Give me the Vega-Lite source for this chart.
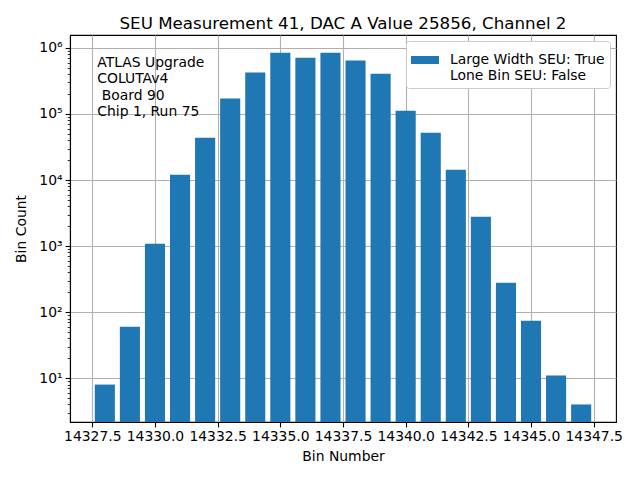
{
  "$schema": "https://vega.github.io/schema/vega-lite/v6.json",
  "width": 546,
  "height": 387,
  "autosize": {"type": "none"},
  "padding": {"left": 70, "top": 35, "right": 24, "bottom": 58},
  "background": "white",
  "title": {
    "text": "SEU Measurement 41, DAC A Value 25856, Channel 2",
    "font": "DejaVu Sans",
    "fontSize": 16.7,
    "fontWeight": "normal",
    "color": "black",
    "offset": 2
  },
  "config": {
    "font": "DejaVu Sans",
    "view": {"stroke": "black", "strokeWidth": 1.1},
    "style": {"guide-label": {"lineBreak": "\n"}},
    "axis": {
      "domainColor": "black",
      "domainWidth": 1.1,
      "tickColor": "black",
      "tickWidth": 1.1,
      "tickSize": 4.9,
      "labelColor": "black",
      "labelFontSize": 13.9,
      "labelPadding": 3,
      "titleColor": "black",
      "titleFontSize": 13.9,
      "titleFontWeight": "normal",
      "gridColor": "#b0b0b0",
      "gridWidth": 1.1,
      "gridOpacity": 1,
      "zindex": 1
    }
  },
  "data": {
    "values": [
      {"bin": 14328, "count": 8, "series": "Large Width SEU: True\nLone Bin SEU: False"},
      {"bin": 14329, "count": 60, "series": "Large Width SEU: True\nLone Bin SEU: False"},
      {"bin": 14330, "count": 1080, "series": "Large Width SEU: True\nLone Bin SEU: False"},
      {"bin": 14331, "count": 12000, "series": "Large Width SEU: True\nLone Bin SEU: False"},
      {"bin": 14332, "count": 43700, "series": "Large Width SEU: True\nLone Bin SEU: False"},
      {"bin": 14333, "count": 171000, "series": "Large Width SEU: True\nLone Bin SEU: False"},
      {"bin": 14334, "count": 423000, "series": "Large Width SEU: True\nLone Bin SEU: False"},
      {"bin": 14335, "count": 849000, "series": "Large Width SEU: True\nLone Bin SEU: False"},
      {"bin": 14336, "count": 713000, "series": "Large Width SEU: True\nLone Bin SEU: False"},
      {"bin": 14337, "count": 849000, "series": "Large Width SEU: True\nLone Bin SEU: False"},
      {"bin": 14338, "count": 643000, "series": "Large Width SEU: True\nLone Bin SEU: False"},
      {"bin": 14339, "count": 408000, "series": "Large Width SEU: True\nLone Bin SEU: False"},
      {"bin": 14340, "count": 112000, "series": "Large Width SEU: True\nLone Bin SEU: False"},
      {"bin": 14341, "count": 52100, "series": "Large Width SEU: True\nLone Bin SEU: False"},
      {"bin": 14342, "count": 14300, "series": "Large Width SEU: True\nLone Bin SEU: False"},
      {"bin": 14343, "count": 2780, "series": "Large Width SEU: True\nLone Bin SEU: False"},
      {"bin": 14344, "count": 278, "series": "Large Width SEU: True\nLone Bin SEU: False"},
      {"bin": 14345, "count": 74, "series": "Large Width SEU: True\nLone Bin SEU: False"},
      {"bin": 14346, "count": 11, "series": "Large Width SEU: True\nLone Bin SEU: False"},
      {"bin": 14347, "count": 4, "series": "Large Width SEU: True\nLone Bin SEU: False"}
    ]
  },
  "layer": [
    {
      "mark": {"type": "bar", "size": 20.1, "clip": true},
      "encoding": {
        "x": {
          "field": "bin",
          "type": "quantitative",
          "scale": {"domain": [14326.61, 14348.39], "nice": false, "zero": false, "padding": 0},
          "axis": {
            "values": [14327.5, 14330, 14332.5, 14335, 14337.5, 14340, 14342.5, 14345, 14347.5],
            "format": ".1f",
            "title": "Bin Number",
            "grid": true,
            "labelFlush": false,
            "labelOverlap": false,
            "titlePadding": 6
          }
        },
        "y": {
          "field": "count",
          "type": "quantitative",
          "stack": null,
          "scale": {"type": "log", "domain": [2.17, 1570000], "nice": false, "padding": 0},
          "axis": {
            "values": [10, 100, 1000, 10000, 100000, 1000000],
            "labelExpr": "'10' + ['⁰','¹','²','³','⁴','⁵','⁶','⁷'][round(log(datum.value)/LN10)]",
            "title": "Bin Count",
            "grid": true,
            "titlePadding": 10
          }
        },
        "color": {
          "field": "series",
          "type": "nominal",
          "scale": {"range": ["#1f77b4"]},
          "legend": {
            "title": null,
            "orient": "top-right",
            "offset": 6,
            "padding": 5,
            "strokeColor": "#cccccc",
            "fillColor": "white",
            "cornerRadius": 3,
            "symbolType": "M-1,-0.286L1,-0.286L1,0.286L-1,0.286Z",
            "symbolSize": 784,
            "symbolStrokeWidth": 0,
            "symbolOpacity": 1,
            "labelFontSize": 13.9,
            "labelColor": "black",
            "labelOffset": 11,
            "labelLimit": 400
          }
        }
      }
    },
    {
      "mark": {"type": "bar", "size": 20.1, "opacity": 0, "clip": true},
      "encoding": {
        "x": {"field": "bin", "type": "quantitative"},
        "y": {
          "field": "count",
          "type": "quantitative",
          "stack": null,
          "axis": {
            "orient": "left",
            "values": [3, 4, 5, 6, 7, 8, 9, 20, 30, 40, 50, 60, 70, 80, 90, 200, 300, 400, 500, 600, 700, 800, 900, 2000, 3000, 4000, 5000, 6000, 7000, 8000, 9000, 20000, 30000, 40000, 50000, 60000, 70000, 80000, 90000, 200000, 300000, 400000, 500000, 600000, 700000, 800000, 900000],
            "labels": false,
            "grid": false,
            "domain": false,
            "tickSize": 2.8,
            "tickWidth": 0.8,
            "title": null
          }
        }
      }
    },
    {
      "data": {"values": [{"note": "ATLAS Upgrade\nCOLUTAv4\n\u200b\u00a0Board 90\nChip 1, Run 75"}]},
      "mark": {
        "type": "text",
        "align": "left",
        "baseline": "top",
        "fontSize": 13.9,
        "lineHeight": 16.2,
        "lineBreak": "\n",
        "color": "black"
      },
      "encoding": {
        "x": {"datum": 14327.7, "type": "quantitative"},
        "y": {"datum": 750000, "type": "quantitative", "axis": null},
        "text": {"field": "note"}
      }
    }
  ],
  "resolve": {"axis": {"y": "independent"}}
}
